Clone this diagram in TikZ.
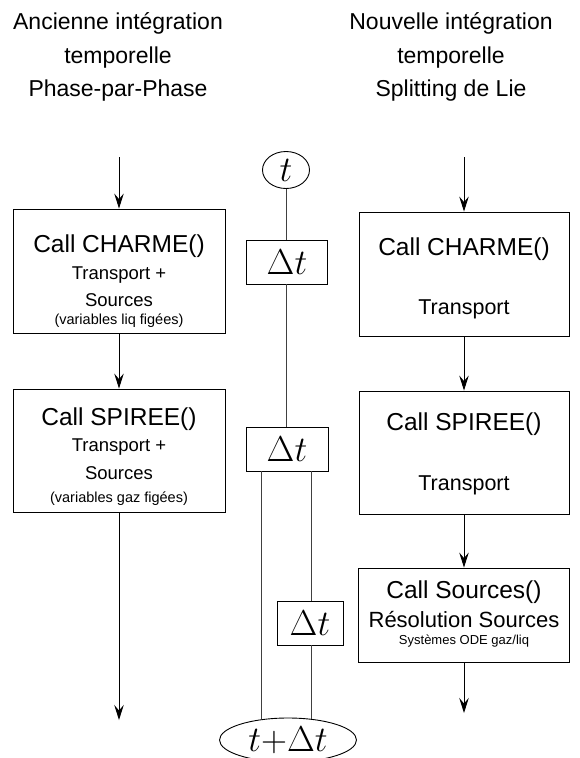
\RequirePackage{fix-cm}
\documentclass[tikz,border=0pt]{standalone}
\usepackage[no-math]{fontspec}
\setmainfont{Liberation Sans}
\usetikzlibrary{arrows.meta,shapes.geometric}
\begin{document}
\begin{tikzpicture}[x=1pt,y=-1pt,line width=0.9pt,
  box/.style={draw,inner sep=0pt},
  dtbox/.style={draw,inner sep=0pt,minimum height=44pt,font=\fontsize{36}{36}\selectfont},
  ell/.style={draw,ellipse,inner sep=0pt,font=\fontsize{36}{36}\selectfont},
  lbl/.style={anchor=base,inner sep=0pt},
  ttl/.style={lbl,font=\fontsize{23}{27}\selectfont},
  big/.style={lbl,font=\fontsize{24.5}{28}\selectfont},
  mid/.style={lbl,font=\fontsize{18.5}{22}\selectfont},
  rmid/.style={lbl,font=\fontsize{21.5}{25}\selectfont},
  res/.style={lbl,font=\fontsize{22}{26}\selectfont},
  sml/.style={lbl,font=\fontsize{14.5}{17}\selectfont},
  tiny/.style={lbl,font=\fontsize{13}{15}\selectfont},
  arr/.style={-{Stealth[length=15pt,width=9.5pt,inset=5.5pt]}},
  tline/.style={draw=black!75}]
\useasboundingbox (0,0) rectangle (579,758);

% titles
\node[ttl] (tl1) at (118,29) {Ancienne intégration};
\node[ttl] (tl2) at (118,63) {temporelle};
\node[ttl] (tl3) at (118,96) {Phase-par-Phase};
\node[ttl] (tr1) at (451,29) {Nouvelle intégration};
\node[ttl] (tr2) at (451,63) {temporelle};
\node[ttl] (tr3) at (451,96) {Splitting de Lie};

% left column
\coordinate (ls) at (119,157);
\coordinate (le) at (119,720);
\node[box,minimum width=212pt,minimum height=124pt] (lb1) at (119,271) {};
\node[box,minimum width=212pt,minimum height=123pt] (lb2) at (119,450.5) {};
\node[big] (lb1a) at (119,252) {Call CHARME()};
\node[mid] (lb1b) at (119,279.5) {Transport +};
\node[mid] (lb1c) at (119,306.5) {Sources};
\node[sml] (lb1d) at (119,324) {(variables liq figées)};
\node[big] (lb2a) at (119,425.5) {Call SPIREE()};
\node[mid] (lb2b) at (119,451.5) {Transport +};
\node[mid] (lb2c) at (119,479.5) {Sources};
\node[sml] (lb2d) at (119,502) {(variables gaz figées)};
\draw[arr] (ls) -- (lb1.north);
\draw[arr] (lb1.south) -- (lb2.north);
\draw[arr] (lb2.south) -- (le);

% right column
\coordinate (rs) at (464,157);
\coordinate (re) at (464,713);
\node[box,minimum width=210pt,minimum height=124pt] (rb1) at (464,274) {};
\node[box,minimum width=210pt,minimum height=123pt] (rb2) at (464,452.5) {};
\node[box,minimum width=211pt,minimum height=94pt] (rb3) at (464,615) {};
\node[big] (rb1a) at (464,255.5) {Call CHARME()};
\node[rmid] (rb1b) at (464,314.5) {Transport};
\node[big] (rb2a) at (464,430.5) {Call SPIREE()};
\node[rmid] (rb2b) at (464,490.5) {Transport};
\node[big] (rb3a) at (464,598.5) {Call Sources()};
\node[res] (rb3b) at (464,627.5) {Résolution Sources};
\node[tiny] (rb3c) at (464,644.5) {Systèmes ODE gaz/liq};
\draw[arr] (rs) -- (rb1.north);
\draw[arr] (rb1.south) -- (rb2.north);
\draw[arr] (rb2.south) -- (rb3.north);
\draw[arr] (rb3.south) -- (re);

% centre timeline
\node[ell,minimum width=47pt,minimum height=37pt] (t0) at (286,170) {$t$};
\node[dtbox,minimum width=81pt] (d1) at (287,262) {$\Delta t$};
\node[dtbox,minimum width=82pt] (d2) at (287,449) {$\Delta t$};
\node[dtbox,minimum width=66pt] (d3) at (310,623) {$\Delta t$};
\node[ell,minimum width=137pt,minimum height=44pt] (t1) at (288,740) {$t{+}\Delta t$};
\coordinate (sl) at (t1.142);
\coordinate (sr) at (t1.42);
\draw[tline] (t0.south) -- (t0.south |- d1.north);
\draw[tline] (d1.south -| t0.south) -- (d2.north -| t0.south);
\draw[tline] (d2.south -| sl) -- (sl);
\draw[tline] (d2.south -| sr) -- (d3.north -| sr);
\draw[tline] (d3.south -| sr) -- (sr);
\end{tikzpicture}
\end{document}
